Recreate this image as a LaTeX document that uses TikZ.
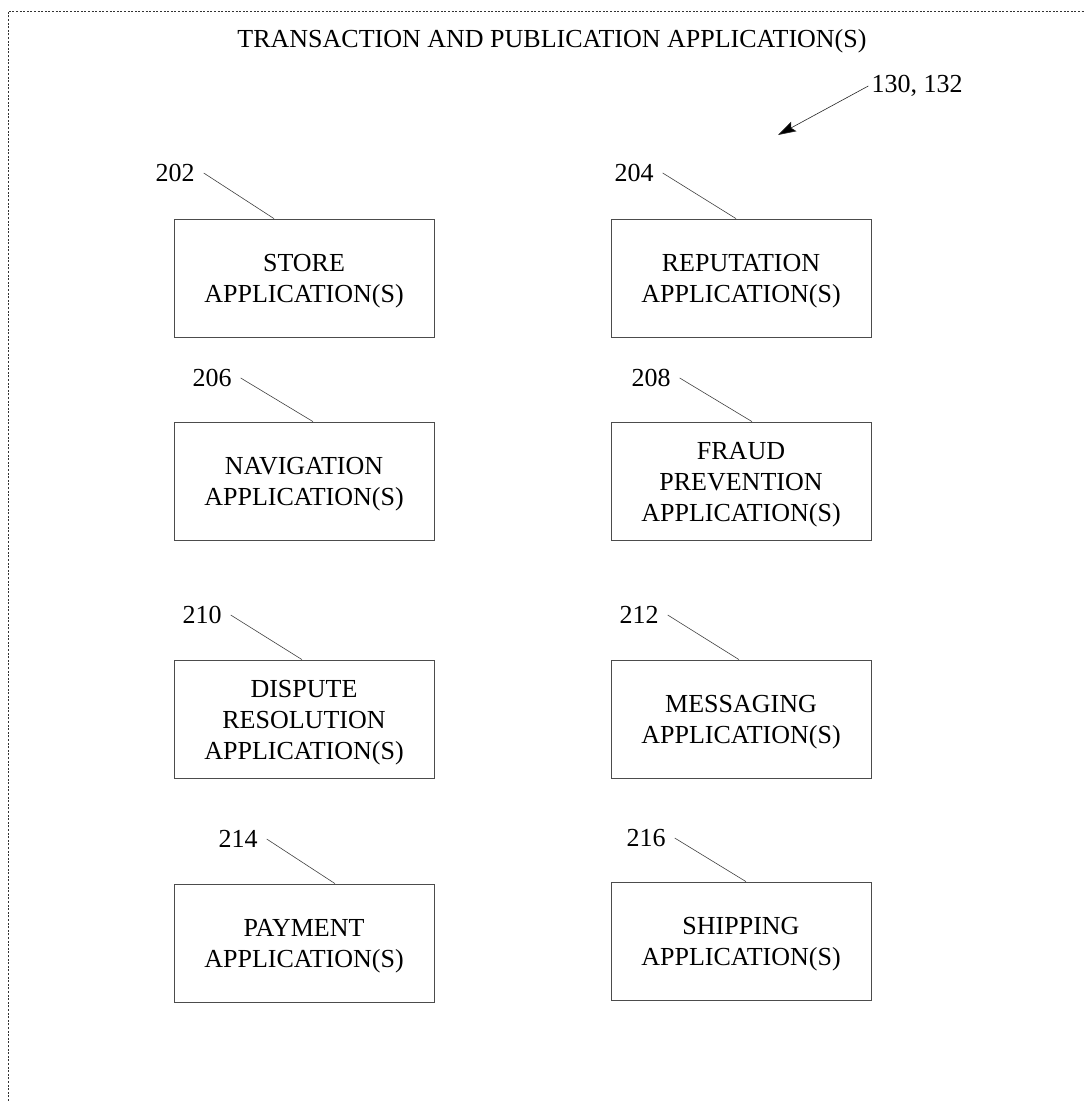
\documentclass[tikz,border=0pt]{standalone}
\usepackage{fontspec}
\setmainfont{Liberation Serif}
\usetikzlibrary{arrows.meta,calc}
% centred multi-line text, nudged down so the capitals sit on the box centre
\newcommand\boxlines[1]{\raisebox{-3pt}[\height][\depth]{\begin{tabular}{@{}c@{}}#1\end{tabular}}}
\tikzset{
  appbox/.style={draw=black!70, line width=0.8pt, minimum width=260pt, minimum height=118pt,
    inner sep=0pt, font=\fontsize{26}{31}\selectfont},
  refnum/.style={inner xsep=9pt, inner ysep=0pt, font=\fontsize{26}{31}\selectfont},
  leader/.style={draw=black!75, line width=0.6pt},
  frame/.style={draw=black!80, line width=0.9pt, dash pattern=on 2pt off 1.6pt}
}
\begin{document}
\begin{tikzpicture}[x=1pt,y=-1pt]
\useasboundingbox (0,0) rectangle (1084,1101);
% outer frame (continues past the right and bottom edges)
\draw[frame] (8,1101) -- (8,11) -- (1084,11);
% title
\node[font=\fontsize{26}{31}\selectfont] (title) at (552,41) {TRANSACTION AND PUBLICATION APPLICATION(S)};
% overall reference with arrow
\node[refnum, inner xsep=3pt] (l130) at (917,86) {130, 132};
\coordinate (tip) at (778,135);
\draw[leader, draw=black!85, -{Stealth[length=18pt,width=11pt,inset=3pt,fill=black]}] (l130.west) -- (tip);
% application boxes
\node[appbox] (s202) at (304,278) {\boxlines{STORE\\APPLICATION(S)}};
\node[appbox] (s204) at (741,278) {\boxlines{REPUTATION\\APPLICATION(S)}};
\node[appbox] (s206) at (304,481) {\boxlines{NAVIGATION\\APPLICATION(S)}};
\node[appbox] (s208) at (741,481) {\boxlines{FRAUD\\PREVENTION\\APPLICATION(S)}};
\node[appbox] (s210) at (304,719) {\boxlines{DISPUTE\\RESOLUTION\\APPLICATION(S)}};
\node[appbox] (s212) at (741,719) {\boxlines{MESSAGING\\APPLICATION(S)}};
\node[appbox] (s214) at (304,943) {\boxlines{PAYMENT\\APPLICATION(S)}};
\node[appbox] (s216) at (741,941) {\boxlines{SHIPPING\\APPLICATION(S)}};
% reference numerals
\node[refnum] (l202) at (175,173) {202};
\node[refnum] (l204) at (634,173) {204};
\node[refnum] (l206) at (212,378) {206};
\node[refnum] (l208) at (651,378) {208};
\node[refnum] (l210) at (202,615) {210};
\node[refnum] (l212) at (639,615) {212};
\node[refnum] (l214) at (238,839) {214};
\node[refnum] (l216) at (646,838) {216};
% leader lines
\draw[leader] (l202.east) -- ([xshift=-30pt]s202.north);
\draw[leader] (l204.east) -- ([xshift=-5pt]s204.north);
\draw[leader] (l206.east) -- ([xshift=9pt]s206.north);
\draw[leader] (l208.east) -- ([xshift=11pt]s208.north);
\draw[leader] (l210.east) -- ([xshift=-2pt]s210.north);
\draw[leader] (l212.east) -- ([xshift=-2pt]s212.north);
\draw[leader] (l214.east) -- ([xshift=31pt]s214.north);
\draw[leader] (l216.east) -- ([xshift=5pt]s216.north);
\end{tikzpicture}
\end{document}
